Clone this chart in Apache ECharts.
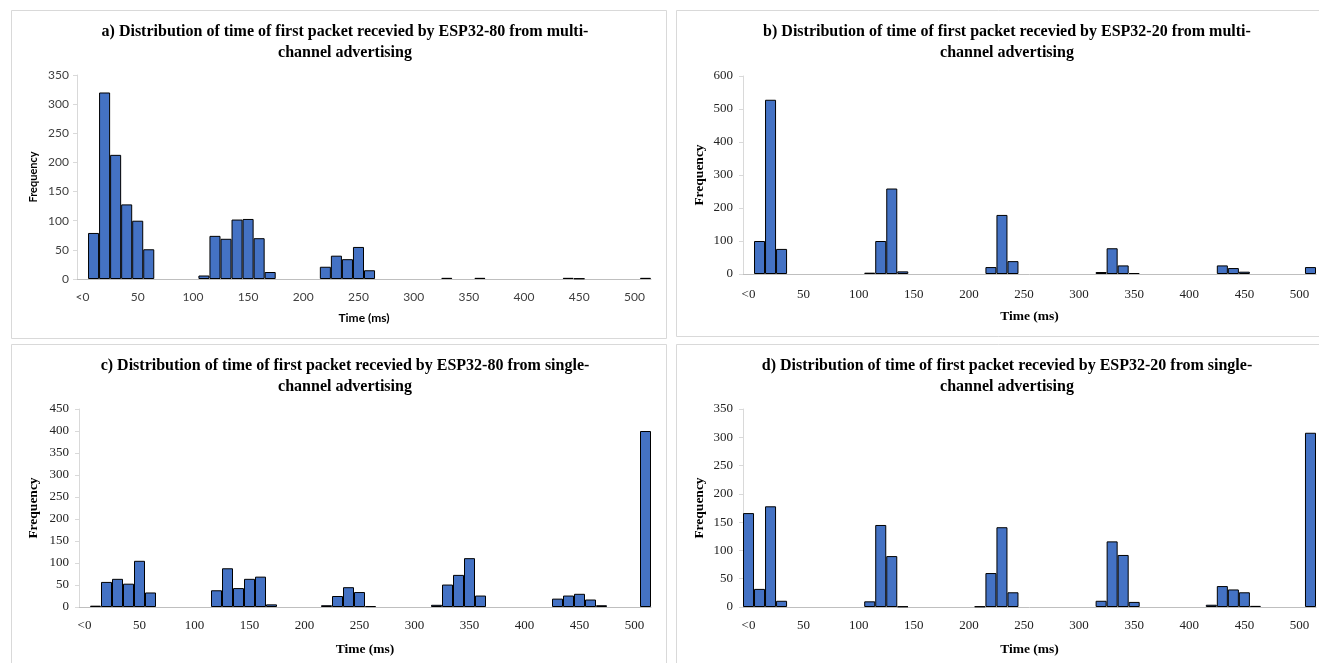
<!DOCTYPE html>
<html><head><meta charset="utf-8">
<script src="https://cdn.jsdelivr.net/npm/echarts@6/dist/echarts.min.js"></script>
<style>html,body{margin:0;padding:0;background:#fff}#c{width:1319px;height:663px}</style>
</head><body><div id="c"></div>
<script>
// Histogram bins (10 ms wide); only every 5th label is shown on the axis
const categories = ['<0','10','20','30','40','50','60','70','80','90',
  '100','110','120','130','140','150','160','170','180','190',
  '200','210','220','230','240','250','260','270','280','290',
  '300','310','320','330','340','350','360','370','380','390',
  '400','410','420','430','440','450','460','470','480','490',
  '500','>500'];

// a) ESP32-80, multi-channel advertising
const freqA = [0,79,320,213,128,100,51,0,0,0,
  0,6,74,69,102,103,70,12,0,0,
  0,0,21,40,34,55,15,0,0,0,
  0,0,0,2,0,0,2,0,0,0,
  0,0,0,0,2,1,0,0,0,0,
  0,2];
// b) ESP32-20, multi-channel advertising
const freqB = [0,100,528,76,0,0,0,0,0,0,
  0,4,100,259,8,0,0,0,0,0,
  0,0,21,179,39,0,0,0,0,0,
  0,0,6,78,26,3,0,0,0,0,
  0,0,0,26,18,7,0,0,0,0,
  0,21];
// c) ESP32-80, single-channel advertising
const freqC = [0,3,57,64,53,105,33,0,0,0,
  0,0,38,88,43,64,69,6,0,0,
  0,0,4,25,45,34,2,0,0,0,
  0,0,5,51,73,111,26,0,0,0,
  0,0,0,19,26,30,17,4,0,0,
  0,400];
// d) ESP32-20, single-channel advertising
const freqD = [166,32,178,11,0,0,0,0,0,0,
  0,10,145,90,1,0,0,0,0,0,
  0,1,60,141,26,0,0,0,0,0,
  0,0,11,116,92,9,0,0,0,0,
  0,0,4,37,31,26,2,0,0,0,
  0,308];

const titles = [
  'a) Distribution of time of first packet recevied by ESP32-80 from multi-\nchannel advertising',
  'b) Distribution of time of first packet recevied by ESP32-20 from multi-\nchannel advertising',
  'c) Distribution of time of first packet recevied by ESP32-80 from single-\nchannel advertising',
  'd) Distribution of time of first packet recevied by ESP32-20 from single-\nchannel advertising'
];
const yMax = [350, 600, 450, 350];
const yStep = [50, 100, 50, 50];
const xName = 'Time (ms)';
const yName = 'Frequency';

const series = [freqA, freqB, freqC, freqD];

// layout
const grids = [
  {left: 77, top: 75, width: 574, height: 204},
  {left: 743, top: 76, width: 573, height: 198},
  {left: 79, top: 409, width: 572, height: 198},
  {left: 743, top: 409, width: 573, height: 198}
];
const titlePos = [[340, 16], [1002, 16], [340, 350], [1002, 350]];
const boxes = [[11, 10, 655, 328], [676, 10, 660, 326], [11, 344, 655, 340], [676, 344, 660, 340]];
const SERIF = '"Liberation Serif", "DejaVu Serif", serif';
const SANS = 'Lato, "Liberation Sans", sans-serif';
const fonts = [SANS, SERIF, SERIF, SERIF];
const xNameGap = [33, 36, 36, 36];
const yNameGap = [38, 36, 38, 36];
const xLabelMargin = [12, 14, 12, 12];

const option = {
  animation: false,
  backgroundColor: '#fff',
  graphic: boxes.map(b => ({
    type: 'rect', silent: true, z: -10,
    shape: {x: b[0] + 0.5, y: b[1] + 0.5, width: b[2], height: b[3]},
    style: {fill: 'none', stroke: '#d9d9d9', lineWidth: 1}
  })),
  title: titles.map((t, i) => ({
    text: t, left: titlePos[i][0], top: titlePos[i][1], textAlign: 'center',
    textStyle: {fontFamily: SERIF, fontWeight: 'bold', fontSize: 16, lineHeight: 21, color: '#000'}
  })),
  grid: grids,
  xAxis: grids.map((g, i) => ({
    type: 'category', gridIndex: i, data: categories,
    name: xName, nameLocation: 'middle', nameGap: xNameGap[i],
    nameTextStyle: {fontFamily: fonts[i], fontWeight: 'bold', fontSize: i === 0 ? 12 : 13.5, color: '#000'},
    axisLine: {lineStyle: {color: '#bfbfbf', width: 1}},
    axisTick: {interval: 0, length: 5, lineStyle: {color: '#bfbfbf'}},
    axisLabel: {interval: 4, margin: xLabelMargin[i], fontFamily: fonts[i], fontSize: i === 0 ? 12 : 13, color: i === 0 ? '#404040' : '#222'},
    splitLine: {show: false}
  })),
  yAxis: grids.map((g, i) => ({
    type: 'value', gridIndex: i, min: 0, max: yMax[i], interval: yStep[i],
    name: yName, nameLocation: 'middle', nameGap: yNameGap[i],
    nameTextStyle: {fontFamily: fonts[i], fontWeight: 'bold', fontSize: i === 0 ? 11 : 13.5, color: '#000'},
    axisLine: {show: true, lineStyle: {color: '#d9d9d9', width: 1}},
    axisTick: {show: true, length: 4, lineStyle: {color: '#d9d9d9'}},
    axisLabel: {margin: i === 0 ? 8 : 10, fontFamily: fonts[i], fontSize: i === 0 ? 12 : 13, color: i === 0 ? '#404040' : '#222'},
    splitLine: {show: false}
  })),
  series: series.map((d, i) => ({
    type: 'bar', xAxisIndex: i, yAxisIndex: i,
    data: d.map(v => (v === 0 ? '-' : v)),
    barCategoryGap: '0%',
    itemStyle: {color: '#4472C4', borderColor: '#000', borderWidth: 1}
  }))
};
echarts.init(document.getElementById('c'), null, {renderer: 'canvas'}).setOption(option);
</script>
</body></html>
